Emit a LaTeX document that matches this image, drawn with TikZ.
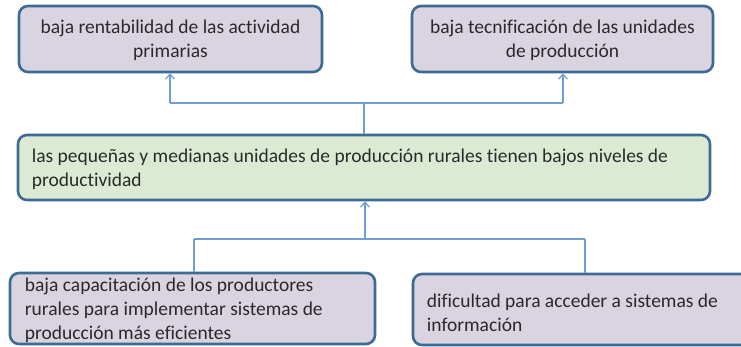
\documentclass[tikz,border=0pt]{standalone}
\usepackage{fontspec}
\setmainfont{Carlito}[RawFeature={-liga}]
\usetikzlibrary{arrows.meta}
\definecolor{edge}{HTML}{3C6B96}
\definecolor{lav}{HTML}{DAD3E0}
\definecolor{grn}{HTML}{DCEAD4}
\definecolor{conn}{HTML}{6F9FD2}
\definecolor{txt}{HTML}{2A2A2A}
\tikzset{
  boxfont/.style={font=\fontsize{19.5}{24}\selectfont},
  box/.style={draw=edge, line width=2.6pt, rounded corners=9pt, inner sep=0pt, text=txt, boxfont},
  lavbox/.style={box, fill=lav},
  grnbox/.style={box, fill=grn},
  boxtext/.style={text=txt, boxfont, align=left, inner sep=0pt},
  conline/.style={draw=conn, line width=1.3pt},
  uparrow/.style={conline, -{Straight Barb[length=5pt,width=9pt,line width=1.2pt]}},
}
\begin{document}
\begin{tikzpicture}[x=1pt,y=-1pt]
\clip (0,0) rectangle (741,347);
\fill[white] (0,0) rectangle (741,347);
\node[lavbox, minimum width=303pt, minimum height=66pt] (b1) at (170.5,39) {};
\node[boxtext, align=center] (b1t) at ([yshift=-1.5pt]b1.center) {baja rentabilidad de las actividad\\primarias};
\node[lavbox, minimum width=301pt, minimum height=66pt] (b2) at (562.5,39) {};
\node[boxtext, align=center] (b2t) at ([yshift=-1.5pt]b2.center) {baja tecnificación de las unidades\\de producción};
\node[grnbox, minimum width=692pt, minimum height=65pt] (m) at (364,167.5) {};
\node[boxtext, anchor=west] (mt) at ([xshift=15pt, yshift=-1.5pt]m.west) {las pequeñas y medianas unidades de producción  rurales tienen  bajos niveles de\\productividad};
\node[lavbox, minimum width=365pt, minimum height=71pt] (c1) at (192.5,308.5) {};
\node[boxtext, anchor=west] (c1t) at ([xshift=16pt, yshift=-2pt]c1.west) {baja capacitación de los productores\\rurales para implementar  sistemas de\\producción  más eficientes};
\node[lavbox, minimum width=360pt, minimum height=71pt] (c2) at (593,309.5) {};
\node[boxtext, anchor=west] (c2t) at ([xshift=15pt, yshift=-3pt]c2.west) {dificultad para acceder a sistemas de\\información};
% top connector
\coordinate (tj) at (364,103);
\coordinate (tl) at (170,103);
\coordinate (tr) at (563,103);
\draw[conline] (m.north) -- (tj);
\draw[conline] (tl) -- (tr);
\draw[uparrow] (tl) -- (tl |- b1.south);
\draw[uparrow] (tr) -- (tr |- b2.south);
% bottom connector
\coordinate (bj) at (365,239);
\coordinate (bl) at (194,239);
\coordinate (br) at (585,239);
\draw[uparrow] (bj) -- (bj |- m.south);
\draw[conline] (bl) -- (br);
\draw[conline] (bl) -- (bl |- c1.north);
\draw[conline] (br) -- (br |- c2.north);
\end{tikzpicture}
\end{document}
